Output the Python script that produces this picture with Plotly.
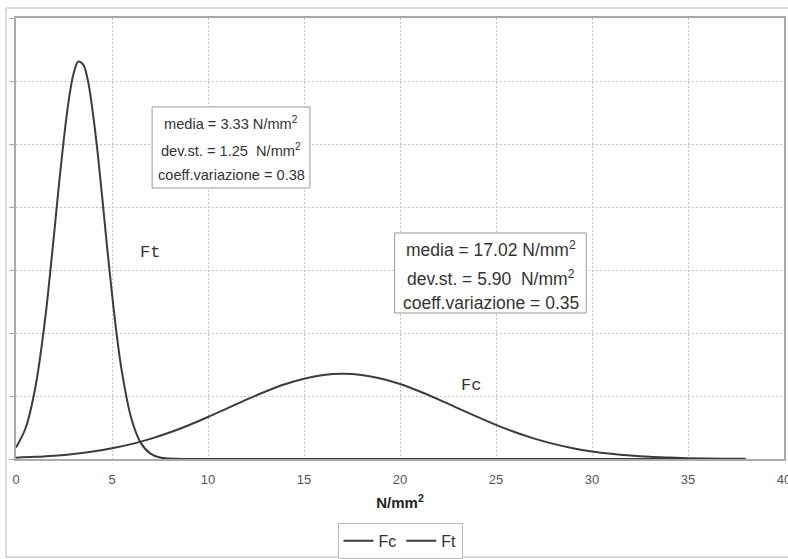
import plotly.graph_objects as go

# Ft curve
ft_x = [0, 0.5, 1.0, 1.5, 1.75, 2.0, 2.25, 2.5, 2.75, 3.0, 3.25, 3.5, 3.75, 4.0, 4.25,
        4.5, 4.75, 5.0, 5.25, 5.5, 6.0, 6.5, 7.0, 7.5, 8.0, 9.0, 12, 20, 30, 38]
ft_y = [0.0092, 0.0246, 0.0562, 0.109, 0.1435, 0.181, 0.2197, 0.255, 0.285, 0.306, 0.3155,
        0.313, 0.3, 0.275, 0.2434, 0.206, 0.1674, 0.131, 0.0981, 0.0707, 0.0326, 0.0128,
        0.0043, 0.0012, 0.0003, 0.0, 0.0, 0.0, 0.0, 0.0]

# Fc curve
fc_x = list(range(0, 39))
fc_y = [0.00105, 0.0017, 0.00264, 0.00402, 0.00592, 0.00849, 0.0118, 0.016, 0.021, 0.0268,
        0.0333, 0.0402, 0.0471, 0.0536, 0.0593, 0.0637, 0.0666, 0.0676, 0.0667, 0.0639,
        0.0595, 0.0538, 0.0473, 0.0404, 0.0336, 0.0271, 0.0212, 0.0162, 0.012, 0.0086,
        0.006, 0.0041, 0.0027, 0.0017, 0.0011, 0.00065, 0.00038, 0.00022, 0.00012]

x_ticks = [0, 5, 10, 15, 20, 25, 30, 35, 40]

box_ft = ["media = 3.33 N/mm<sup>2</sup>", "dev.st. = 1.25  N/mm<sup>2</sup>", "coeff.variazione = 0.38"]
box_fc = ["media = 17.02 N/mm<sup>2</sup>", "dev.st. = 5.90  N/mm<sup>2</sup>", "coeff.variazione = 0.35"]

line_col = "#3c3c3c"
grid_col = "#c4c4c4"
font_main = "Liberation Sans, Arial, sans-serif"
font_mono = "Liberation Mono, Courier New, monospace"

fig = go.Figure()
fig.add_trace(go.Scatter(x=fc_x, y=fc_y, name="Fc", mode="lines",
                         line=dict(color=line_col, width=2, shape="spline", smoothing=1)))
fig.add_trace(go.Scatter(x=ft_x, y=ft_y, name="Ft", mode="lines",
                         line=dict(color=line_col, width=2, shape="spline", smoothing=1)))

fig.update_layout(
    width=788, height=559,
    margin=dict(l=16, r=4, t=18, b=100, autoexpand=False),
    paper_bgcolor="white", plot_bgcolor="white",
    font=dict(family=font_main, color="#333333", size=12),
    showlegend=True,
    legend=dict(orientation="h", x=0.5, xanchor="center", y=-0.145, yanchor="top",
                bordercolor="#bbbbbb", borderwidth=1, font=dict(size=16, color="#333"),
                itemwidth=30, tracegroupgap=0),
    xaxis=dict(range=[0, 40], tickvals=x_ticks, ticktext=[str(v) for v in x_ticks],
               showgrid=True, gridcolor=grid_col, griddash="2px,2px", gridwidth=1,
               showline=True, linecolor="#aaaaaa", linewidth=1.5, mirror=True,
               ticks="", tickfont=dict(size=13, color="#555"), ticklabelstandoff=8,
               ticklabeloverflow="allow",
               title=dict(text="<b>N/mm<sup>2</sup></b>", font=dict(size=15, color="#222"), standoff=11),
               zeroline=False, automargin=False),
    yaxis=dict(range=[0, 0.35], dtick=0.05, showticklabels=False,
               showgrid=True, gridcolor=grid_col, griddash="2px,2px", gridwidth=1,
               showline=True, linecolor="#aaaaaa", linewidth=1.5, mirror=True,
               ticks="outside", ticklen=5, tickcolor="#aaaaaa", zeroline=False, automargin=False),
)

# outer chart frame
fig.add_shape(type="rect", xref="paper", yref="paper", x0=-0.013, x1=1.02, y0=-0.222, y1=1.0227,
              line=dict(color="#d0d0d0", width=1.5), layer="below")

# statistics boxes (frame + three lines each)
def stat_box(x0, x1, y0, y1, xc, ys, lines, size):
    fig.add_shape(type="rect", xref="x", yref="y", x0=x0, x1=x1, y0=y0, y1=y1,
                  line=dict(color="#999999", width=1), fillcolor="white", layer="above")
    for yy, txt in zip(ys, lines):
        fig.add_annotation(x=xc, y=yy, xref="x", yref="y", text=txt, showarrow=False,
                           font=dict(size=size, color="#333"))

stat_box(7.09, 15.31, 0.2151, 0.2794, 11.2, [0.2665, 0.2452, 0.2254], box_ft, 14.6)
stat_box(19.72, 29.70, 0.1159, 0.1794, 24.72, [0.1665, 0.1437, 0.1238], box_fc, 17.5)

# curve labels
fig.add_annotation(x=7.0, y=0.164, xref="x", yref="y", text="Ft", showarrow=False,
                   font=dict(family=font_mono, size=17, color="#333"))
fig.add_annotation(x=23.7, y=0.0587, xref="x", yref="y", text="Fc", showarrow=False,
                   font=dict(family=font_mono, size=17, color="#333"))

fig.write_html("out.html")
